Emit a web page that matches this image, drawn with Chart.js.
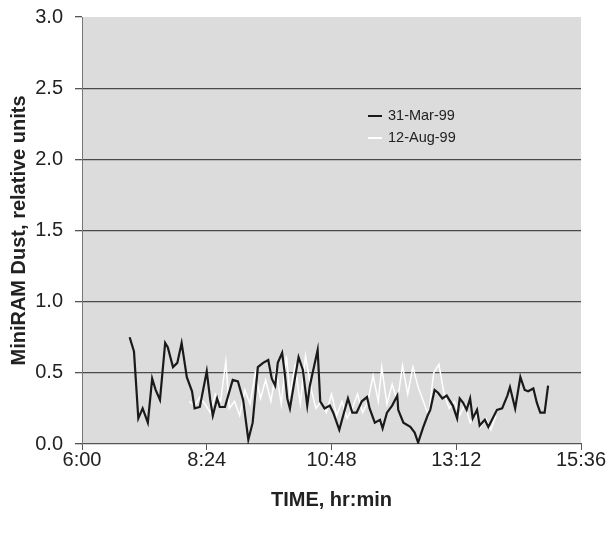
<!DOCTYPE html>
<html>
<head>
<meta charset="utf-8">
<script src="https://cdn.jsdelivr.net/npm/chart.js@4/dist/chart.umd.min.js"></script>
<style>
  html, body { margin: 0; padding: 0; background: #ffffff; }
  #wrap { width: 610px; height: 533px; position: relative; }
</style>
</head>
<body>
<div id="wrap"><canvas id="c" width="610" height="533"></canvas></div>
<script>
// Time in minutes since midnight
const marTimes = [415,420,425,430,436,441,445,450,456,459,465,470,475,481,487,490,496,504,508,511,516,519,525,534,540,546,552,557,563,569,575,579,583,586,591,594,597,600,606,610,615,620,623,632,635,640,646,650,657,661,667,672,677,683,689,692,698,704,707,712,718,724,725,731,739,744,748,754,759,762,767,771,776,781,788,793,796,800,804,808,811,816,819,825,829,839,845,851,854,860,866,871,875,881,885,889,894,898];
const marValues = [0.75,0.65,0.18,0.25,0.15,0.46,0.38,0.31,0.71,0.68,0.54,0.57,0.71,0.47,0.37,0.25,0.26,0.51,0.31,0.20,0.32,0.26,0.26,0.45,0.44,0.31,0.03,0.15,0.54,0.57,0.59,0.46,0.41,0.57,0.64,0.50,0.32,0.25,0.47,0.61,0.52,0.27,0.41,0.66,0.30,0.25,0.27,0.22,0.10,0.19,0.32,0.22,0.22,0.30,0.33,0.25,0.15,0.17,0.11,0.22,0.27,0.34,0.24,0.15,0.12,0.08,0.01,0.12,0.20,0.24,0.38,0.36,0.32,0.34,0.27,0.18,0.32,0.29,0.24,0.32,0.18,0.24,0.13,0.17,0.12,0.24,0.25,0.34,0.40,0.25,0.47,0.38,0.37,0.39,0.29,0.22,0.22,0.41];
const augTimes = [484,490,496,502,508,514,520,526,530,536,542,548,554,560,566,572,578,584,590,596,600,606,612,618,624,630,636,642,648,654,660,666,672,678,684,690,696,702,706,712,718,724,730,736,742,748,754,760,766,772,778,784,790,796,802,808,814,820,826,832,838];
const augValues = [0.30,0.27,0.33,0.28,0.22,0.35,0.30,0.58,0.25,0.30,0.20,0.38,0.28,0.50,0.32,0.45,0.30,0.52,0.28,0.62,0.35,0.55,0.28,0.62,0.40,0.25,0.30,0.22,0.35,0.20,0.30,0.18,0.25,0.35,0.22,0.30,0.48,0.30,0.54,0.28,0.42,0.30,0.55,0.35,0.54,0.40,0.30,0.20,0.50,0.56,0.35,0.25,0.30,0.20,0.28,0.15,0.22,0.12,0.18,0.10,0.20];
const seriesLabels = ['31-Mar-99', '12-Aug-99'];
const xTickValues = [360, 504, 648, 792, 936];
const yTickValues = [0, 0.5, 1.0, 1.5, 2.0, 2.5, 3.0];

function pts(ts, vs) { return ts.map((t, i) => ({ x: t, y: vs[i] })); }
function fmtTime(m) { const h = Math.floor(m / 60), mm = Math.round(m % 60); return h + ':' + String(mm).padStart(2, '0'); }

const FONT = '"Liberation Sans", Arial, sans-serif';

const bgPlugin = {
  id: 'plotBg',
  beforeDraw(chart) {
    const a = chart.chartArea, ctx = chart.ctx;
    ctx.save();
    ctx.fillStyle = '#dcdcdd';
    ctx.fillRect(a.left, a.top, a.right - a.left, a.bottom - a.top);
    ctx.restore();
  }
};

const legendPlugin = {
  id: 'customLegend',
  afterDatasetsDraw(chart) {
    const ctx = chart.ctx;
    const x0 = 368, x1 = 382, tx = 388;
    const ys = [116, 138];
    ctx.save();
    ctx.font = '14.5px ' + FONT;
    ctx.textBaseline = 'middle';
    chart.data.datasets.forEach((ds, i) => {
      ctx.strokeStyle = ds.borderColor;
      ctx.lineWidth = 2;
      ctx.beginPath(); ctx.moveTo(x0, ys[i]); ctx.lineTo(x1, ys[i]); ctx.stroke();
      ctx.fillStyle = '#222';
      ctx.fillText(ds.label, tx, ys[i]);
    });
    ctx.restore();
  }
};

new Chart(document.getElementById('c'), {
  type: 'line',
  data: {
    datasets: [
      { label: seriesLabels[0], data: pts(marTimes, marValues), borderColor: '#1a1a1a', borderWidth: 2.2, pointRadius: 0, tension: 0, fill: false },
      { label: seriesLabels[1], data: pts(augTimes, augValues), borderColor: '#ffffff', borderWidth: 1.5, pointRadius: 0, tension: 0, fill: false }
    ]
  },
  options: {
    responsive: false,
    animation: false,
    layout: { padding: { left: 0, right: 29, top: 17, bottom: 0 } },
    plugins: { legend: { display: false }, tooltip: { enabled: false } },
    scales: {
      x: {
        type: 'linear', min: 360, max: 936,
        afterBuildTicks(s) { s.ticks = xTickValues.map(v => ({ value: v })); },
        afterFit(s) { s.height = 533 - 444; s.paddingLeft = 0; s.paddingRight = 0; },
        ticks: { callback: v => fmtTime(v), color: '#222', font: { family: FONT, size: 20 }, padding: -2, maxRotation: 0, autoSkip: false },
        grid: { drawOnChartArea: false, drawTicks: true, tickLength: 6, tickColor: '#555', color: '#555' },
        border: { color: '#555', width: 1.2 },
        title: { display: true, text: 'TIME, hr:min', color: '#222', font: { family: FONT, size: 20, weight: 'bold' }, padding: { top: 0, bottom: 21 } }
      },
      y: {
        type: 'linear', min: 0, max: 3,
        afterBuildTicks(s) { s.ticks = yTickValues.map(v => ({ value: v })); },
        afterFit(s) { s.width = 82; s.paddingTop = 0; s.paddingBottom = 0; },
        ticks: { callback: v => v.toFixed(1), color: '#222', font: { family: FONT, size: 20 }, padding: 12 },
        grid: {
          color: c => (c.tick && (c.tick.value === 3 || c.tick.value === 0)) ? 'rgba(0,0,0,0)' : '#4a4a4a',
          lineWidth: 1.3, tickLength: 7, tickColor: '#555'
        },
        border: { color: '#777', width: 1 },
        title: { display: true, text: 'MiniRAM Dust, relative units', color: '#222', font: { family: FONT, size: 20, weight: 'bold' }, padding: { top: 7, bottom: 0 } }
      }
    }
  },
  plugins: [bgPlugin, legendPlugin]
});
</script>
</body>
</html>
